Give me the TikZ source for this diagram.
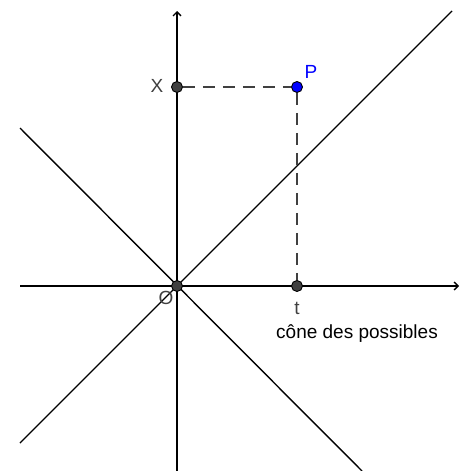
\documentclass[tikz,border=0pt]{standalone}
\usepackage{fontspec}
\setmainfont{Liberation Sans}
\usetikzlibrary{arrows.meta}
\definecolor{ptgray}{HTML}{404040}
\begin{document}
\begin{tikzpicture}[x=1pt,y=-1pt,
  axis/.style={line width=1.4pt,black,-{Straight Barb[length=4pt,width=8pt]}},
  cone/.style={line width=1.4pt,black},
  dashline/.style={line width=1.4pt,ptgray,dash pattern=on 12pt off 8pt},
  pt/.style={circle,draw=black,line width=0.9pt,fill=ptgray,inner sep=0pt,minimum size=11pt},
  bluept/.style={pt,fill=blue},
  lbl/.style={font=\fontsize{19}{21}\selectfont,text=ptgray,inner sep=0pt}]
\useasboundingbox (0,0) rectangle (468,471);
\coordinate (xa0) at (20,286);
\coordinate (xa1) at (459,286);
\coordinate (ya0) at (177,471);
\coordinate (ya1) at (177,11);
\coordinate (d1a) at (20,443);
\coordinate (d1b) at (452,11);
\coordinate (d2a) at (20,128);
\coordinate (d2b) at (362,471);
\draw[cone] (d1a) -- (d1b);
\draw[cone] (d2a) -- (d2b);
\draw[axis] (xa0) -- (xa1);
\draw[axis] (ya0) -- (ya1);
\node[pt] (X) at (177,87) {};
\node[bluept] (P) at (297,87) {};
\node[pt] (T) at (297,286) {};
\draw[dashline] (X) -- (P);
\draw[dashline] (P) -- (T);
\node[pt] (O) at (177,286) {};
\node[lbl] (xl) at (157,86) {X};
\node[lbl,text=blue] (pl) at (311,72) {P};
\node[lbl] (tl) at (297,308) {t};
\node[lbl] (ol) at (166,298) {O};
\node[lbl,text=black] (cl) at (357,334) {cône des possibles};
\end{tikzpicture}
\end{document}
